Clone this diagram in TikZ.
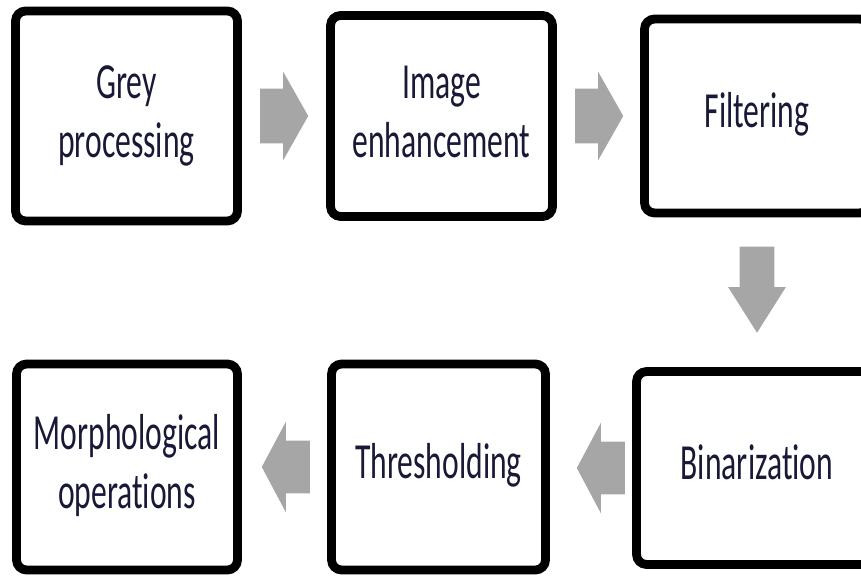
\documentclass[tikz,border=0pt]{standalone}
\usepackage{fontspec}
\setmainfont{Carlito}[Ligatures=NoCommon]
\usepackage{graphicx}
\usetikzlibrary{calc, shapes.arrows}
\definecolor{arrowgray}{RGB}{166,166,166}
\definecolor{textnavy}{RGB}{25,25,55}
\newcommand{\tallbox}[1]{\scalebox{1}[1.6]{\begin{tabular}{@{}c@{}}#1\end{tabular}}}

\begin{document}
\begin{tikzpicture}[x=0.02cm, y=-0.02cm,
		stepbox/.style={draw, line width=5pt, rounded corners=0.2cm, inner sep=0pt, text=textnavy, font=\fontsize{18}{21}\selectfont},
		grayarrow/.style={single arrow, fill=arrowgray, draw=none, anchor=tail},
		harrow/.style={grayarrow, inner xsep=0pt, inner ysep=0.54cm, minimum height=0.96cm, minimum width=1.76cm, single arrow head extend=0.34cm, single arrow tip angle=121},
		varrow/.style={grayarrow, inner sep=0.34cm, minimum height=1.72cm, minimum width=1.14cm, single arrow head extend=0.23cm, single arrow tip angle=64.7, shape border rotate=270}]
		\useasboundingbox (0,0) rectangle (861,577);
		\clip (0,0) rectangle (861,577);

		% Boxes
		\node[stepbox, minimum width=4.44cm, minimum height=4.2cm] (G) at (126.5,116) {\tallbox{Grey\\processing}};
		\node[stepbox, minimum width=4.44cm, minimum height=4.02cm] (I) at (441.5,116) {\tallbox{Image\\enhancement}};
		\node[stepbox, minimum width=4.5cm, minimum height=3.88cm] (F) at (757,116) {\tallbox{Filtering}};

		\node[stepbox, minimum width=4.42cm, minimum height=4.12cm] (M) at (127,467) {\tallbox{Morphological\\operations}};
		\node[stepbox, minimum width=4.28cm, minimum height=4.12cm] (T) at (438.5,467) {\tallbox{Thresholding}};
		\node[stepbox, minimum width=4.82cm, minimum height=3.86cm] (B) at (757,468) {\tallbox{Binarization}};

		% Arrows
		\node[harrow] (A_1) at ($(G.east)+(18,0)$) {};
		\node[harrow] (A_2) at ($(I.east)+(18,0)$) {};
		\node[varrow] (A_3) at ($(F.south)+(0,29)$) {};
		\node[harrow, shape border rotate=180, inner ysep=0.52cm, minimum width=1.8cm, single arrow head extend=0.38cm, single arrow tip angle=124] (A_4) at ($(B.west)+(-7,0)$) {};
		\node[harrow, shape border rotate=180, inner ysep=0.52cm, minimum width=1.8cm, single arrow head extend=0.38cm, single arrow tip angle=124] (A_5) at ($(T.west)+(-17,0)$) {};
	\end{tikzpicture}
\end{document}
